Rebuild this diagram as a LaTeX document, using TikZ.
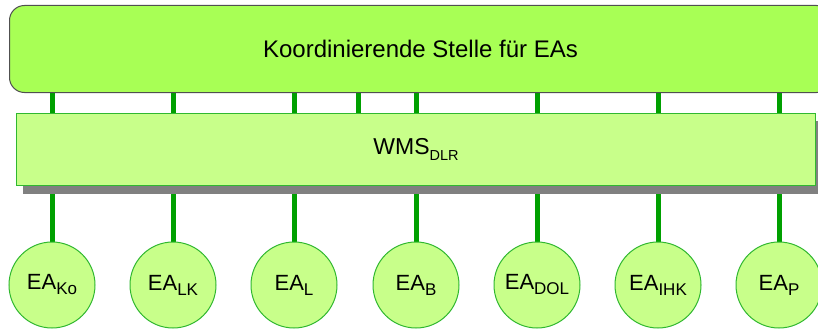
\documentclass[tikz,border=0pt]{standalone}
\usepackage{fontspec}
\setmainfont{Liberation Sans}
\usetikzlibrary{backgrounds}
\definecolor{topfill}{HTML}{A8FF55}
\definecolor{midfill}{HTML}{C8FF8A}
\definecolor{linkgreen}{HTML}{00A000}
\definecolor{edgegreen}{HTML}{30B830}
\definecolor{shadowgray}{HTML}{808080}
\definecolor{topedge}{HTML}{505050}
\tikzset{
  topbox/.style={draw=topedge, line width=1pt, fill=topfill, rounded corners=15pt,
    minimum width=822pt, minimum height=87pt, inner sep=0pt, anchor=north west,
    font=\fontsize{24}{28}\selectfont},
  midbox/.style={draw=edgegreen, line width=1pt, fill=midfill,
    minimum width=799pt, minimum height=72pt, inner sep=0pt, anchor=north west,
    font=\fontsize{23}{26}\selectfont},
  eacircle/.style={circle, draw=edgegreen, line width=1pt, fill=midfill,
    minimum size=86pt, inner sep=0pt, font=\fontsize{22}{26}\selectfont},
  conn/.style={draw=linkgreen, line width=5pt},
  boxshadow/.style={fill=shadowgray}
}
\newcommand{\subtx}[1]{\raisebox{-5pt}{\fontsize{17}{20}\selectfont #1}}
\begin{document}
\begin{tikzpicture}[x=1pt, y=-1pt]
\useasboundingbox (0,0) rectangle (818,329);
\clip (0,0) rectangle (818,329);

\node[topbox] (top) at (9,5) {Koordinierende Stelle für EAs};
\node[midbox] (mid) at (16,113) {WMS\raisebox{-6pt}{\fontsize{14.5}{16}\selectfont DLR}};

\node[eacircle] (e1) at (52,285)  {EA\subtx{Ko}};
\node[eacircle] (e2) at (173,285) {EA\subtx{LK}};
\node[eacircle] (e3) at (294,285) {EA\subtx{L}};
\node[eacircle] (e4) at (416,285) {EA\subtx{B}};
\node[eacircle] (e5) at (537,285) {EA\subtx{DOL}};
\node[eacircle] (e6) at (658,285) {EA\subtx{IHK}};
\node[eacircle] (e7) at (779,285) {EA\subtx{P}};
\coordinate (x4) at (358,0);

\begin{scope}[on background layer]
  \fill[white] (0,0) rectangle (818,329);
  \foreach \n in {e1,e2,e3,x4,e4,e5,e6,e7}
    \draw[conn] (top.south -| \n) -- (mid.north -| \n);
  \foreach \n in {e1,e2,e3,e4,e5,e6,e7}
    \draw[conn] (mid.south -| \n) -- (\n.north);
  \path[boxshadow] ([shift={(7,8)}]mid.north west) rectangle ([shift={(7,8)}]mid.south east);
\end{scope}
\end{tikzpicture}
\end{document}
